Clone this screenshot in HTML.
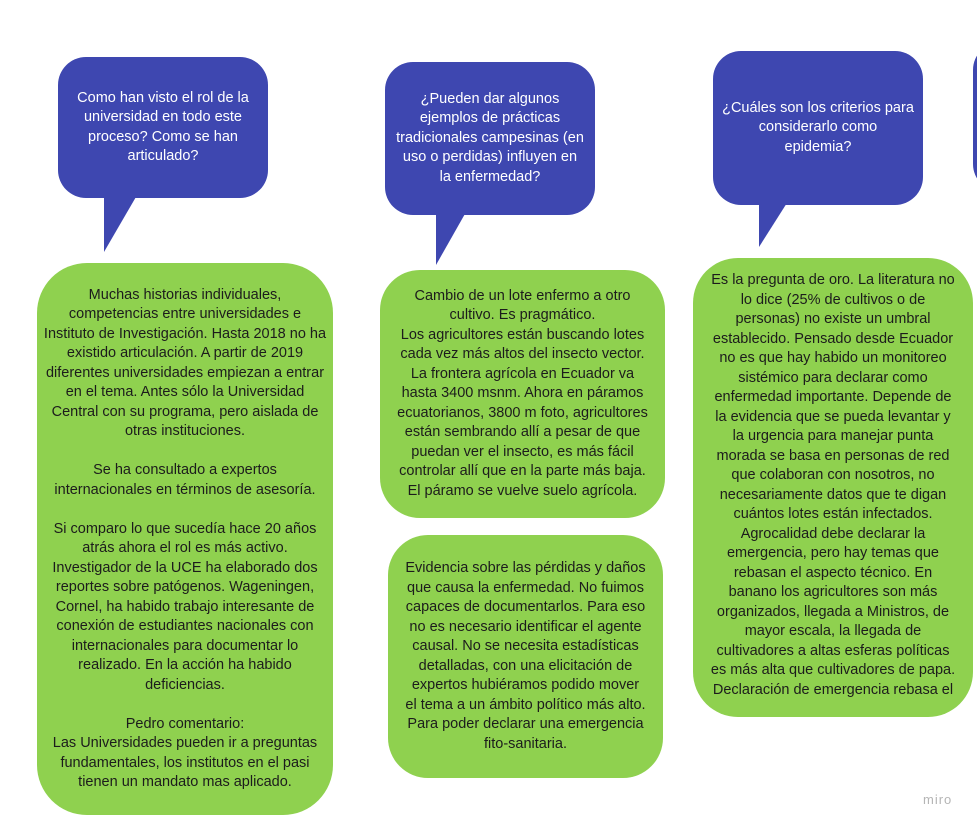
<!DOCTYPE html>
<html><head><meta charset="utf-8"><style>
body{margin:0;width:977px;height:828px;background:#fff;position:relative;overflow:hidden;font-family:"Liberation Sans",sans-serif;}
.b{position:absolute;background:#3e47b0;border-radius:28px;color:#fff;font-size:14.5px;line-height:19.5px;text-align:center;display:flex;align-items:center;justify-content:center;}
.g{position:absolute;background:#8fd14f;color:#1c1c1c;font-size:14.5px;line-height:19.5px;text-align:center;display:flex;align-items:center;justify-content:center;overflow:hidden;}
svg{position:absolute;left:0;top:0}
</style></head><body>
<svg width="977" height="828">
<polygon points="104,190 140,190 104,252" fill="#3e47b0"/>
<polygon points="436,205 470,205 436,265" fill="#3e47b0"/>
<polygon points="759,195 792,195 759,247" fill="#3e47b0"/>
</svg>
<div class="b" style="left:58px;top:57px;width:210px;height:141px;">Como han visto el rol de la<br>universidad en todo este<br>proceso? Como se han<br>articulado?</div>
<div class="b" style="left:385px;top:62px;width:210px;height:153px;">¿Pueden dar algunos<br>ejemplos de prácticas<br>tradicionales campesinas (en<br>uso o perdidas) influyen en<br>la enfermedad?</div>
<div class="b" style="left:713px;top:51px;width:210px;height:154px;">¿Cuáles son los criterios para<br>considerarlo como<br>epidemia?</div>
<div class="b" style="left:973px;top:42px;width:60px;height:150px;"></div>

<div class="g" style="left:37px;top:263px;width:296px;height:552px;border-radius:50px;">Muchas historias individuales,<br>competencias entre universidades e<br>Instituto de Investigación. Hasta 2018 no ha<br>existido articulación. A partir de 2019<br>diferentes universidades empiezan a entrar<br>en el tema. Antes sólo la Universidad<br>Central con su programa, pero aislada de<br>otras instituciones.<br><br>Se ha consultado a expertos<br>internacionales en términos de asesoría.<br><br>Si comparo lo que sucedía hace 20 años<br>atrás ahora el rol es más activo.<br>Investigador de la UCE ha elaborado dos<br>reportes sobre patógenos. Wageningen,<br>Cornel, ha habido trabajo interesante de<br>conexión de estudiantes nacionales con<br>internacionales para documentar lo<br>realizado. En la acción ha habido<br>deficiencias.<br><br>Pedro comentario:<br>Las Universidades pueden ir a preguntas<br>fundamentales, los institutos en el pasi<br>tienen un mandato mas aplicado.</div>

<div class="g" style="left:380px;top:270px;width:285px;height:248px;border-radius:40px;">Cambio de un lote enfermo a otro<br>cultivo. Es pragmático.<br>Los agricultores están buscando lotes<br>cada vez más altos del insecto vector.<br>La frontera agrícola en Ecuador va<br>hasta 3400 msnm. Ahora en páramos<br>ecuatorianos, 3800 m foto, agricultores<br>están sembrando allí a pesar de que<br>puedan ver el insecto, es más fácil<br>controlar allí que en la parte más baja.<br>El páramo se vuelve suelo agrícola.</div>

<div class="g" style="left:388px;top:535px;width:275px;height:243px;border-radius:40px;">Evidencia sobre las pérdidas y daños<br>que causa la enfermedad. No fuimos<br>capaces de documentarlos. Para eso<br>no es necesario identificar el agente<br>causal. No se necesita estadísticas<br>detalladas, con una elicitación de<br>expertos hubiéramos podido mover<br>el tema a un ámbito político más alto.<br>Para poder declarar una emergencia<br>fito-sanitaria.</div>

<div class="g" style="left:693px;top:258px;width:280px;height:459px;border-radius:45px;align-items:flex-start;"><div style="padding-top:13px;height:426px;overflow:hidden;">Es la pregunta de oro. La literatura no<br>lo dice (25% de cultivos o de<br>personas) no existe un umbral<br>establecido. Pensado desde Ecuador<br>no es que hay habido un monitoreo<br>sistémico para declarar como<br>enfermedad importante. Depende de<br>la evidencia que se pueda levantar y<br>la urgencia para manejar punta<br>morada se basa en personas de red<br>que colaboran con nosotros, no<br>necesariamente datos que te digan<br>cuántos lotes están infectados.<br>Agrocalidad debe declarar la<br>emergencia, pero hay temas que<br>rebasan el aspecto técnico. En<br>banano los agricultores son más<br>organizados, llegada a Ministros, de<br>mayor escala, la llegada de<br>cultivadores a altas esferas políticas<br>es más alta que cultivadores de papa.<br>Declaración de emergencia rebasa el<br>aspecto técnico.</div></div>

<div style="position:absolute;left:923px;top:792px;color:#b5b5b5;font-size:13px;letter-spacing:1px;">miro</div>
</body></html>
